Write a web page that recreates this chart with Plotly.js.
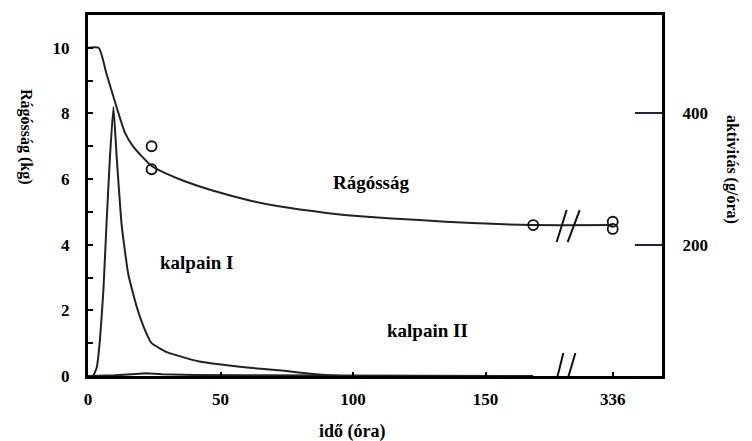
<!DOCTYPE html>
<html>
<head>
<meta charset="utf-8">
<script src="https://cdn.plot.ly/plotly-3.0.1.min.js"></script>
<style>html,body{margin:0;padding:0;background:#fff;}#chart{width:752px;height:441px;}</style>
</head>
<body>
<div id="chart"></div>
<script>
// --- data ---
// tenderness (kg) vs time (hours)
const tenderHours = [0, 4, 7, 10, 14, 17, 24, 30, 36, 47, 61, 72, 90, 104, 125, 145, 168, 336];
const tenderKg    = [10, 10, 9.2, 8.4, 7.4, 7.0, 6.4, 6.15, 5.95, 5.65, 5.35, 5.17, 4.97, 4.86, 4.75, 4.66, 4.6, 4.6];
const tenderObsHours = [24, 24, 168, 336, 336];
const tenderObsKg    = [7.0, 6.3, 4.6, 4.7, 4.48];
// calpain activity (g/óra) vs time (hours)
const calp1Hours = [2, 3.3, 4.5, 5.8, 7, 8.3, 9.6, 10.8, 12.7, 15.2, 18.4, 21, 24, 30, 42, 61, 74, 85, 95];
const calp1Act   = [0, 13, 55, 130, 233, 335, 410, 335, 230, 155, 105, 75, 50, 36, 22, 12.5, 8, 3, 0];
const calp2Hours = [0, 10, 18, 22, 28, 40, 60, 100, 168];
const calp2Act   = [0, 1, 3, 4, 2.5, 1.5, 1, 0.5, 0];
// axis ticks
const xTickHours = [0, 50, 100, 150, 336];
const xTickText  = ['0', '50', '100', '150', '336'];
const yTickVals  = [0,1,2,3,4,5,6,7,8,9,10];
const yTickText  = ['0','','2','','4','','6','','8','','10'];
const y2TickVals = [200, 400];
const y2TickText = ['200', '400'];

// broken axis: hours beyond the break are compressed
function toPos(h){ return h <= 180 ? h : 198 + (h - 336) * 0.1; }
const P = a => a.map(toPos);

const serif = 'Liberation Serif';
const tickF = {family: serif, size: 17, color: '#000', weight: 'bold'};
const noteF = {family: serif, size: 19, color: '#000', weight: 'bold'};
const xTitleF = {family: serif, size: 18, color: '#000', weight: 'bold'};
const yTitleF = {family: serif, size: 16, color: '#000', weight: 'bold'};
const lineCol = '#222';

const traces = [
  {x: P(tenderHours), y: tenderKg, mode: 'lines', line: {color: lineCol, width: 2, shape: 'spline', smoothing: 0.6}, hoverinfo: 'skip'},
  {x: P(calp1Hours), y: calp1Act, yaxis: 'y2', mode: 'lines', line: {color: lineCol, width: 2, shape: 'spline', smoothing: 0.4}, hoverinfo: 'skip'},
  {x: P(calp2Hours), y: calp2Act, yaxis: 'y2', mode: 'lines', line: {color: lineCol, width: 2}, hoverinfo: 'skip'},
  {x: P(tenderObsHours), y: tenderObsKg, mode: 'markers', marker: {symbol: 'circle-open', size: 10, color: '#111', line: {width: 1.8}}, cliponaxis: false, hoverinfo: 'skip'}
];

const breakX = 180;
const layout = {
  width: 752, height: 441,
  margin: {l: 88, r: 90, t: 15, b: 65},
  paper_bgcolor: '#fff', plot_bgcolor: '#fff',
  showlegend: false,
  font: tickF,
  xaxis: {
    range: [0, 216.6], showgrid: false, zeroline: false,
    showline: true, linewidth: 3, linecolor: '#000', mirror: true,
    ticks: 'inside', ticklen: 4, tickwidth: 2, tickcolor: '#000',
    tickvals: P(xTickHours), ticktext: xTickText, tickfont: tickF, ticklabelstandoff: 6
  },
  yaxis: {
    range: [0, 11], showgrid: false, zeroline: false,
    showline: true, linewidth: 3, linecolor: '#000',
    ticks: 'inside', ticklen: 5, tickwidth: 2, tickcolor: '#000',
    tickvals: yTickVals, ticktext: yTickText, tickfont: tickF, ticklabelstandoff: 12
  },
  yaxis2: {
    overlaying: 'y', side: 'right', anchor: 'x',
    range: [0, 550], showgrid: false, zeroline: false,
    showline: true, linewidth: 3, linecolor: '#000',
    ticks: 'inside', ticklen: 27, tickwidth: 2, tickcolor: '#1c2448',
    tickvals: y2TickVals, ticktext: y2TickText, tickfont: tickF, ticklabelstandoff: 14
  },
  shapes: [
    {type: 'line', xref: 'x', yref: 'y', xsizemode: 'pixel', ysizemode: 'pixel', xanchor: breakX + 1, yanchor: 4.6, x0: -11, x1: -1, y0: -17, y1: 15, line: {color: '#111', width: 2}},
    {type: 'line', xref: 'x', yref: 'y', xsizemode: 'pixel', ysizemode: 'pixel', xanchor: breakX + 1, yanchor: 4.6, x0: 0, x1: 12, y0: -17, y1: 15, line: {color: '#111', width: 2}},
    {type: 'line', xref: 'x', yref: 'y', xsizemode: 'pixel', ysizemode: 'pixel', xanchor: breakX - 1, yanchor: 0, x0: -10, x1: 1, y0: -21, y1: 23, line: {color: '#111', width: 2}},
    {type: 'line', xref: 'x', yref: 'y', xsizemode: 'pixel', ysizemode: 'pixel', xanchor: breakX - 1, yanchor: 0, x0: 0, x1: 13, y0: -21, y1: 23, line: {color: '#111', width: 2}}
  ],
  annotations: [
    {text: 'Rágósság', x: 107, y: 5.9, xref: 'x', yref: 'y', showarrow: false, font: noteF},
    {text: 'kalpain I', x: 41, y: 3.45, xref: 'x', yref: 'y', showarrow: false, font: noteF},
    {text: 'kalpain II', x: 128, y: 1.4, xref: 'x', yref: 'y', showarrow: false, font: noteF},
    {text: 'idő (óra)', x: 0.46, y: -0.155, xref: 'paper', yref: 'paper', showarrow: false, font: xTitleF, yanchor: 'middle'},
    {text: 'Rágósság (kg)', x: -0.127, y: 0.662, xref: 'paper', yref: 'paper', showarrow: false, textangle: 90, font: yTitleF},
    {text: 'aktivitás (g/óra)', x: 1.141, y: 0.571, xref: 'paper', yref: 'paper', showarrow: false, textangle: 90, font: yTitleF}
  ]
};

Plotly.newPlot('chart', traces, layout, {staticPlot: true, displayModeBar: false});
</script>
</body>
</html>
